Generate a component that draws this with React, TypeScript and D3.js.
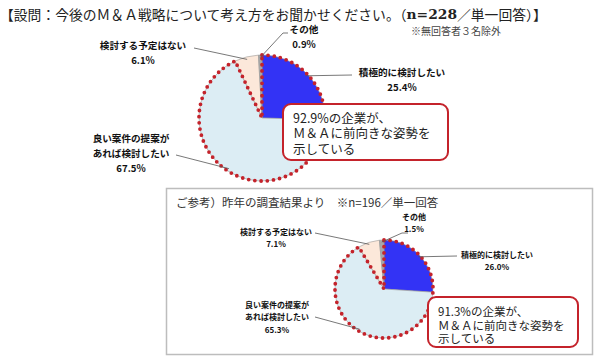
import React from "react";
import * as d3 from "d3";

// 回答カテゴリ（12時の位置から時計回り）
const categories = ["積極的に検討したい", "良い案件の提案があれば検討したい", "検討する予定はない", "その他"];
const thisYear = [25.4, 67.5, 6.1, 0.9];
const lastYear = [26.0, 65.3, 7.1, 1.5];
const sliceColors = ["#3333f5", "#dcedf4", "#fce8da", "#a8a8a8"];

const titleText = "【設問：今後のＭ＆Ａ戦略について考え方をお聞かせください。（";
const titleN = "n=228";
const titleTail = "／単一回答）】";
const noteText = "※無回答者３名除外";
const refTitle = "ご参考）昨年の調査結果より　※n=196／単一回答";
const calloutTop = ["92.9%の企業が、", "Ｍ＆Ａに前向きな姿勢を", "示している"];
const calloutBottom = ["91.3%の企業が、", "Ｍ＆Ａに前向きな姿勢を", "示している"];

const JP = "'Noto Sans CJK JP', sans-serif";
const DOT = "#c4232b";

// label lines for each slice: text lines, anchor, leader start
type LabelLayout = { lines: string[]; x: number; y: number; lx: number; ly: number; elbow?: number };

const PieBlock = ({ values, cx, cy, r, fs, gap, labels }: {
  values: number[]; cx: number; cy: number; r: number; fs: number; gap: number; labels: LabelLayout[];
}) => {
  const pie = d3.pie<number>().sort(null).value((d) => d);
  const arcs = pie(values);
  const arc = d3.arc<d3.PieArcDatum<number>>().innerRadius(0).outerRadius(r);
  // 前向き回答（積極的＋良い案件）をまとめて点線で囲む
  const positive = d3.arc()({
    innerRadius: 0,
    outerRadius: r,
    startAngle: arcs[0].startAngle,
    endAngle: arcs[1].endAngle,
  } as any);

  return (
    <g>
      <g transform={`translate(${cx},${cy})`}>
        {arcs.map((a, i) => (
          <path key={i} d={arc(a) || ""} fill={sliceColors[i]} stroke="#9a9a9a" strokeWidth={0.6} />
        ))}
        <path d={positive || ""} fill="none" stroke={DOT} strokeWidth={3.8}
          strokeDasharray="0 6.2" strokeLinecap="round" strokeLinejoin="round" />
      </g>
      {arcs.map((a, i) => {
        const L = labels[i];
        const mid = (a.startAngle + a.endAngle) / 2;
        const ex = cx + Math.sin(mid) * r * 0.96;
        const ey = cy - Math.cos(mid) * r * 0.96;
        const pts = L.elbow != null
          ? `${L.lx + L.elbow},${L.ly} ${L.lx},${L.ly} ${ex},${ey}`
          : `${L.lx},${L.ly} ${ex},${ey}`;
        return (
          <g key={i}>
            <polyline points={pts} fill="none" stroke="#555" strokeWidth={0.8} />
            {[...L.lines, `${values[i].toFixed(1)}%`].map((t, j) => (
              <text key={j} x={L.x} y={L.y + j * gap} textAnchor="middle" dominantBaseline="central"
                fontFamily={JP} fontWeight="bold" fontSize={fs} fill="#111">{t}</text>
            ))}
          </g>
        );
      })}
    </g>
  );
};

const Callout = ({ x, y, w, h, lines, tx, ty, gap, fs }: {
  x: number; y: number; w: number; h: number; lines: string[]; tx: number; ty: number; gap: number; fs: number;
}) => (
  <g>
    <rect x={x} y={y} width={w} height={h} rx={8} fill="#fff" stroke={DOT} strokeWidth={2} />
    {lines.map((t, i) => (
      <text key={i} x={tx} y={ty + i * gap} dominantBaseline="central" fontFamily={JP}
        fontSize={fs} fill="#222">{t}</text>
    ))}
  </g>
);

const App = () => {
  const topLabels: LabelLayout[] = [
    { lines: ["積極的に検討したい"], x: 402, y: 72, lx: 352, ly: 75 },
    { lines: ["良い案件の提案が", "あれば検討したい"], x: 131, y: 138, lx: 176, ly: 155 },
    { lines: ["検討する予定はない"], x: 143, y: 45, lx: 194, ly: 48 },
    { lines: ["その他"], x: 304, y: 29, lx: 283, ly: 33, elbow: 5 },
  ];
  const bottomLabels: LabelLayout[] = [
    { lines: ["積極的に検討したい"], x: 497, y: 254, lx: 457, ly: 256 },
    { lines: ["良い案件の提案が", "あれば検討したい"], x: 277, y: 304, lx: 315, ly: 317 },
    { lines: ["検討する予定はない"], x: 276, y: 231, lx: 315, ly: 233 },
    { lines: ["その他"], x: 414, y: 216, lx: 402, ly: 233, elbow: 6 },
  ];

  return (
    <svg width={600} height={363} style={{ position: "absolute", left: 0, top: 0, background: "#fff" }}>
      <text x={0} y={14} dominantBaseline="central" fontFamily={JP} fontSize={13.8} fill="#222">
        {titleText}
        <tspan fontWeight="bold" fontFamily="'DejaVu Serif', serif">{titleN}</tspan>
        {titleTail}
      </text>
      <text x={411} y={30} dominantBaseline="central" fontFamily={JP} fontSize={10} fill="#444">{noteText}</text>

      <PieBlock values={thisYear} cx={262} cy={118} r={63} fs={9.6} gap={15} labels={topLabels} />
      <Callout x={283} y={104} w={165} h={56} lines={calloutTop} tx={293} ty={117} gap={15.5} fs={12.5} />

      <rect x={166.5} y={188.5} width={426} height={166} fill="none" stroke="#bdbdbd" strokeWidth={1.5} />
      <text x={176} y={202} dominantBaseline="central" fontFamily={JP} fontSize={11.5} fill="#333">{refTitle}</text>

      <PieBlock values={lastYear} cx={384} cy={289} r={49} fs={8} gap={12.5} labels={bottomLabels} />
      <Callout x={428} y={297} w={150} h={50} lines={calloutBottom} tx={438} ty={311} gap={13.5} fs={11.5} />
    </svg>
  );
};

export default App;
